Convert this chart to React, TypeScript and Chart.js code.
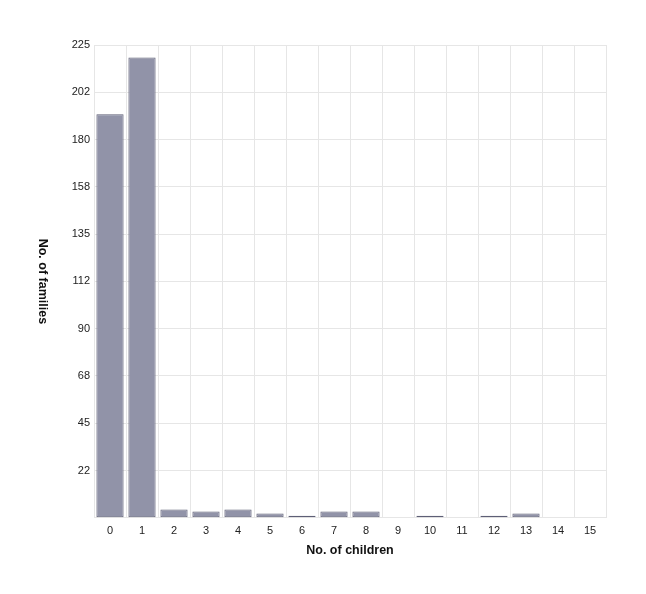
import { useEffect, useRef } from "react";
import Chart from "chart.js/auto";

const childCounts = ["0", "1", "2", "3", "4", "5", "6", "7", "8", "9", "10", "11", "12", "13", "14", "15"];
const families = [192, 219, 4, 3, 4, 2, 1, 3, 3, 0, 1, 0, 1, 2, 0, 0];
const yTickLabels = ["", "22", "45", "68", "90", "112", "135", "158", "180", "202", "225"];

const FONT = "'Liberation Sans', Arial, sans-serif";

// y title reads top-to-bottom, which chart.js can't do on the left axis
const sideTitle = {
  id: "sideTitle",
  afterDraw(chart: Chart) {
    const { ctx, chartArea } = chart;
    ctx.save();
    ctx.translate(42, (chartArea.top + chartArea.bottom) / 2);
    ctx.rotate(Math.PI / 2);
    ctx.font = `bold 12.5px ${FONT}`;
    ctx.fillStyle = "#111";
    ctx.textAlign = "center";
    ctx.textBaseline = "middle";
    ctx.fillText("No. of families", 0, 0);
    ctx.restore();
  },
};

export default function App() {
  const chartRef = useRef<HTMLCanvasElement | null>(null);

  useEffect(() => {
    if (!chartRef.current) return;
    const ctx = chartRef.current.getContext("2d");
    if (!ctx) return;
    const chart = new Chart(ctx, {
      type: "bar",
      data: {
        labels: childCounts,
        datasets: [
          {
            label: "Families",
            data: families,
            backgroundColor: "#9193a8",
            borderColor: "#5e5f76",
            borderWidth: 1,
            borderSkipped: false,
            barPercentage: 0.85,
            categoryPercentage: 1,
          },
        ],
      },
      options: {
        animation: false,
        responsive: false,
        layout: { padding: { left: 54, top: 45, right: 40, bottom: 36 } },
        plugins: { legend: { display: false }, tooltip: { enabled: false } },
        scales: {
          x: {
            grid: { color: "#e6e6e6", drawTicks: false, offset: true },
            border: { color: "#e6e6e6" },
            ticks: { color: "#222", padding: 7, font: { family: FONT, size: 11 } },
            title: {
              display: true,
              text: "No. of children",
              color: "#111",
              font: { family: FONT, size: 12.5, weight: "bold" },
              padding: { top: -2, bottom: 0 },
            },
          },
          y: {
            min: 0,
            max: 225,
            afterFit: (s: any) => {
              s.width = 40;
            },
            grid: { color: "#e6e6e6", drawTicks: false },
            border: { color: "#e6e6e6" },
            ticks: {
              stepSize: 22.5,
              color: "#222",
              padding: 4,
              font: { family: FONT, size: 11 },
              callback: (_v: any, i: number) => yTickLabels[i],
            },
          },
        },
      },
      plugins: [sideTitle],
    });
    return () => chart.destroy();
  }, []);

  return (
    <div style={{ position: "absolute", left: 0, top: 0, width: 646, height: 594, background: "#fff" }}>
      <canvas ref={chartRef} width={646} height={594}></canvas>
    </div>
  );
}
